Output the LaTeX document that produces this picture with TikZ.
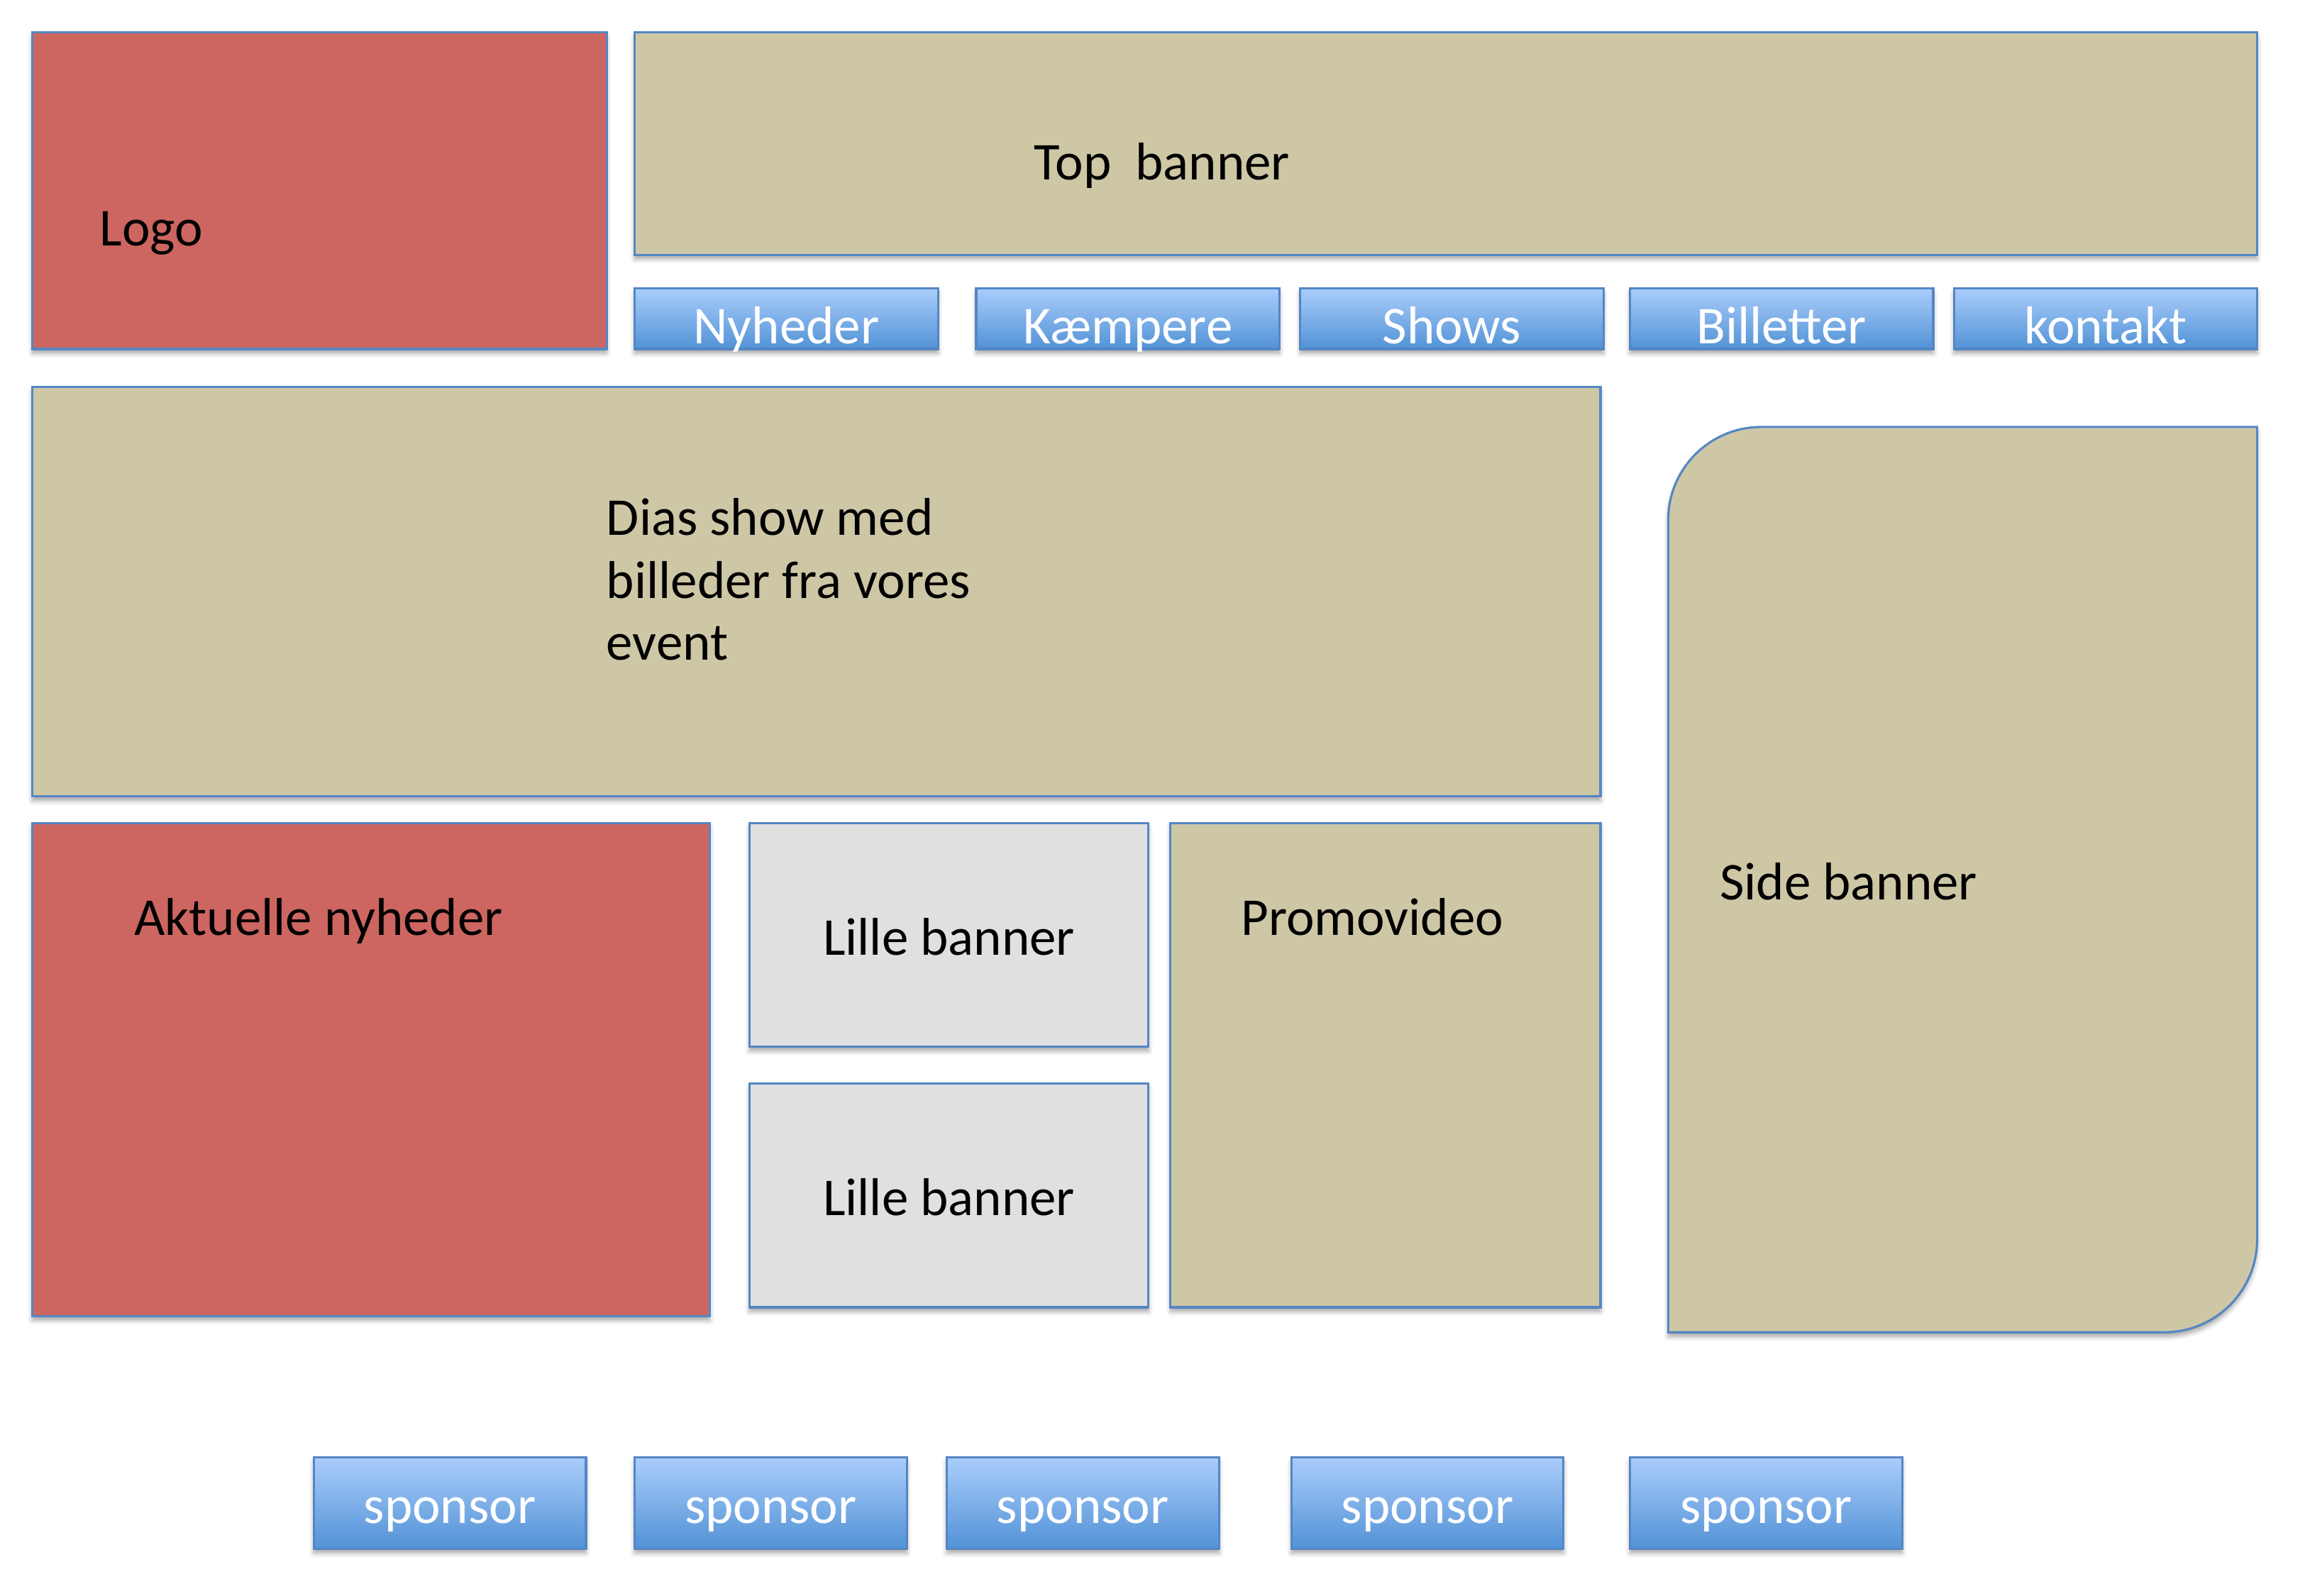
\documentclass[tikz,border=0pt]{standalone}
\usepackage{fontspec}
\setmainfont{Carlito}
\usetikzlibrary{calc,shadows.blur}
\definecolor{boxred}{RGB}{205,102,96}
\definecolor{boxtan}{RGB}{206,199,166}
\definecolor{boxgrey}{RGB}{224,224,224}
\definecolor{edgeblue}{RGB}{84,134,196}
\definecolor{btntop}{RGB}{170,205,251}
\definecolor{btnbot}{RGB}{82,146,214}
\begin{document}
\begin{tikzpicture}[x=1pt,y=-1pt,
  shade/.style={blur shadow={shadow xshift=0pt,shadow yshift=-3pt,shadow blur radius=3pt,shadow opacity=35}},
  panel/.style={draw=edgeblue,line width=1.5pt,inner sep=0pt,outer sep=0pt,anchor=north west,shade},
  btn/.style={panel,top color=btntop,bottom color=btnbot},
  navbtn/.style={btn,minimum width=205.3pt,minimum height=40.9pt},
  spbtn/.style={btn,minimum width=184.3pt,minimum height=61.8pt},
  lbl/.style={inner sep=0pt,outer sep=0pt,anchor=base west,font=\fontsize{36}{42.3}\selectfont,text=black},
  btnlbl/.style={lbl,anchor=base,text=white}]
\useasboundingbox (0,0) rectangle (1560,1080);
% header
\node[panel,fill=boxred,minimum width=388.7pt,minimum height=214.3pt] (logo) at (21.9,21.9) {};
\node[panel,fill=boxtan,minimum width=1098.1pt,minimum height=150.5pt] (top) at (429.5,21.9) {};
% navigation
\node[navbtn] (nyh) at (429.5,195.3) {};
\node[navbtn] (kam) at (660.7,195.3) {};
\node[navbtn] (sho) at (879.9,195.3) {};
\node[navbtn] (bil) at (1103.1,195.3) {};
\node[navbtn] (kon) at (1322.4,195.3) {};
% main area
\node[panel,fill=boxtan,minimum width=1061.3pt,minimum height=277pt] (dias) at (21.9,262.1) {};
\node[panel,fill=boxred,minimum width=458.4pt,minimum height=333.9pt] (akt) at (21.9,557) {};
\node[panel,fill=boxgrey,minimum width=270.1pt,minimum height=151.5pt] (lil1) at (507.2,557) {};
\node[panel,fill=boxgrey,minimum width=270.1pt,minimum height=151.5pt] (lil2) at (507.2,733.4) {};
\node[panel,fill=boxtan,minimum width=291pt,minimum height=327.9pt] (promo) at (792.2,557) {};
% side banner (round diagonal corners)
\path[draw=edgeblue,line width=1.5pt,fill=boxtan,shade]
  (1192,289) -- (1527.6,289) -- (1527.6,838.8)
  .. controls (1527.6,873.6) and (1499.6,901.8) .. (1464.6,901.8)
  -- (1129,901.8) -- (1129,352)
  .. controls (1129,317.2) and (1157.2,289) .. (1192,289) -- cycle;
% sponsors
\node[spbtn] (sp1) at (212.3,986.5) {};
\node[spbtn] (sp2) at (429.5,986.5) {};
\node[spbtn] (sp3) at (640.7,986.5) {};
\node[spbtn] (sp4) at (873.9,986.5) {};
\node[spbtn] (sp5) at (1103.1,986.5) {};
% labels
\node[lbl] (logoT) at (67.5,166.5) {Logo};
\node[lbl] (topT) at (700,121.5) {Top\ \ banner};
\node[btnlbl] (nyhT) at ($(nyh.south)+(0,-3.8)$) {Nyheder};
\node[btnlbl] (kamT) at ($(kam.south)+(0,-3.8)$) {Kæmpere};
\node[btnlbl] (shoT) at ($(sho.south)+(0,-3.8)$) {Shows};
\node[btnlbl] (bilT) at ($(bil.south)+(0,-3.8)$) {Billetter};
\node[btnlbl] (konT) at ($(kon.south)+(0,-3.8)$) {kontakt};
\node[lbl] (dias1) at (410.5,362.5) {Dias show med};
\node[lbl] (dias2) at (410.5,404.8) {billeder fra vores};
\node[lbl] (dias3) at (410.5,447) {event};
\node[lbl] (aktT) at (91,633) {Aktuelle nyheder};
\node[lbl,anchor=base] (lil1T) at ($(lil1.north)+(0,89.5)$) {Lille banner};
\node[lbl,anchor=base] (lil2T) at ($(lil2.north)+(0,89.5)$) {Lille banner};
\node[lbl] (promoT) at (840,633) {Promovideo};
\node[lbl] (sideT) at (1164,609) {Side banner};
\node[btnlbl] (sp1T) at ($(sp1.south)+(0,-17.4)$) {sponsor};
\node[btnlbl] (sp2T) at ($(sp2.south)+(0,-17.4)$) {sponsor};
\node[btnlbl] (sp3T) at ($(sp3.south)+(0,-17.4)$) {sponsor};
\node[btnlbl] (sp4T) at ($(sp4.south)+(0,-17.4)$) {sponsor};
\node[btnlbl] (sp5T) at ($(sp5.south)+(0,-17.4)$) {sponsor};
\end{tikzpicture}
\end{document}
